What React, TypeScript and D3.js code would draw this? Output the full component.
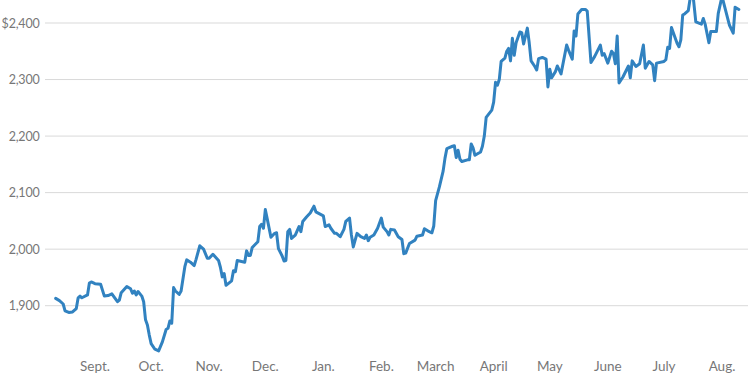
import React from "react";
import * as d3 from "d3";

const dates: string[] = [
  "2023-08-11","2023-08-13","2023-08-15","2023-08-16","2023-08-18","2023-08-20","2023-08-22","2023-08-23","2023-08-24","2023-08-25",
  "2023-08-28","2023-08-29","2023-08-30","2023-09-01","2023-09-04","2023-09-06","2023-09-08","2023-09-10","2023-09-13","2023-09-14",
  "2023-09-15","2023-09-18","2023-09-20","2023-09-21","2023-09-22","2023-09-23","2023-09-24","2023-09-26","2023-09-27","2023-09-28",
  "2023-09-29","2023-09-30","2023-10-01","2023-10-03","2023-10-05","2023-10-07","2023-10-09","2023-10-10","2023-10-11","2023-10-12",
  "2023-10-13","2023-10-14","2023-10-16","2023-10-17","2023-10-19","2023-10-20","2023-10-22","2023-10-24","2023-10-25","2023-10-27",
  "2023-10-29","2023-10-31","2023-11-01","2023-11-03","2023-11-06","2023-11-07","2023-11-08","2023-11-09","2023-11-10","2023-11-13",
  "2023-11-14","2023-11-15","2023-11-16","2023-11-20","2023-11-21","2023-11-22","2023-11-23","2023-11-24","2023-11-27","2023-11-28",
  "2023-11-29","2023-11-30","2023-12-01","2023-12-02","2023-12-04","2023-12-06","2023-12-07","2023-12-08","2023-12-10","2023-12-11",
  "2023-12-12","2023-12-13","2023-12-14","2023-12-15","2023-12-17","2023-12-19","2023-12-20","2023-12-21","2023-12-23","2023-12-25",
  "2023-12-27","2023-12-28","2024-01-01","2024-01-02","2024-01-04","2024-01-05","2024-01-07","2024-01-08","2024-01-10","2024-01-12",
  "2024-01-13","2024-01-15","2024-01-16","2024-01-17","2024-01-19","2024-01-21","2024-01-23","2024-01-24","2024-01-25","2024-01-26",
  "2024-01-28","2024-01-30","2024-02-01","2024-02-02","2024-02-04","2024-02-05","2024-02-06","2024-02-08","2024-02-10","2024-02-12",
  "2024-02-13","2024-02-14","2024-02-16","2024-02-19","2024-02-20","2024-02-23","2024-02-24","2024-02-26","2024-02-28","2024-02-29",
  "2024-03-01","2024-03-03","2024-03-05","2024-03-06","2024-03-07","2024-03-10","2024-03-11","2024-03-12","2024-03-13","2024-03-14",
  "2024-03-15","2024-03-18","2024-03-19","2024-03-20","2024-03-21","2024-03-22","2024-03-25","2024-03-26","2024-03-27","2024-03-28",
  "2024-03-31","2024-04-01","2024-04-02","2024-04-03","2024-04-04","2024-04-05","2024-04-07","2024-04-08","2024-04-09","2024-04-10",
  "2024-04-11","2024-04-12","2024-04-13","2024-04-15","2024-04-16","2024-04-17","2024-04-19","2024-04-20","2024-04-21","2024-04-23",
  "2024-04-24","2024-04-25","2024-04-27","2024-04-29","2024-04-30","2024-05-01","2024-05-02","2024-05-04","2024-05-05","2024-05-07",
  "2024-05-10","2024-05-11","2024-05-13","2024-05-14","2024-05-15","2024-05-16","2024-05-18","2024-05-20","2024-05-21","2024-05-23",
  "2024-05-25","2024-05-28","2024-05-29","2024-05-30","2024-06-01","2024-06-03","2024-06-04","2024-06-05","2024-06-06","2024-06-07",
  "2024-06-09","2024-06-12","2024-06-13","2024-06-14","2024-06-16","2024-06-18","2024-06-20","2024-06-21","2024-06-23","2024-06-25",
  "2024-06-26","2024-06-27","2024-07-01","2024-07-02","2024-07-03","2024-07-04","2024-07-05","2024-07-08","2024-07-09","2024-07-10",
  "2024-07-11","2024-07-12","2024-07-14","2024-07-16","2024-07-18","2024-07-21","2024-07-22","2024-07-23","2024-07-25","2024-07-26",
  "2024-07-29","2024-07-30","2024-08-01","2024-08-05","2024-08-07","2024-08-08","2024-08-10"
];

const prices: number[] = [
  1913,1909,1903,1891,1888,1889,1895,1914,1917,1914,
  1919,1940,1942,1939,1938,1917,1918,1921,1907,1910,
  1923,1934,1930,1922,1926,1919,1925,1917,1907,1875,
  1866,1848,1833,1823,1820,1836,1858,1860,1873,1869,
  1932,1926,1920,1926,1969,1981,1977,1971,1982,2006,
  2000,1984,1984,1991,1980,1968,1951,1957,1936,1944,
  1962,1960,1980,1977,1997,1989,1989,2003,2013,2040,
  2044,2037,2070,2054,2021,2028,2029,2001,1988,1979,
  1980,2031,2035,2019,2025,2040,2031,2049,2057,2064,
  2076,2066,2059,2040,2043,2037,2028,2028,2022,2035,
  2049,2055,2025,2004,2028,2022,2019,2025,2015,2021,
  2025,2037,2055,2039,2031,2025,2035,2034,2022,2017,
  1992,1993,2010,2016,2023,2025,2036,2032,2029,2041,
  2086,2110,2138,2161,2178,2182,2183,2162,2175,2159,
  2155,2158,2158,2186,2179,2166,2172,2182,2200,2233,
  2246,2260,2295,2290,2300,2332,2338,2350,2355,2333,
  2373,2343,2365,2384,2383,2363,2391,2365,2333,2323,
  2317,2337,2339,2336,2287,2318,2303,2314,2324,2310,
  2361,2352,2336,2386,2377,2416,2424,2424,2421,2330,
  2341,2361,2343,2346,2329,2350,2346,2328,2377,2294,
  2304,2324,2303,2333,2323,2328,2361,2320,2332,2326,
  2298,2329,2332,2335,2357,2355,2392,2364,2358,2370,
  2414,2416,2422,2466,2402,2398,2408,2398,2365,2385,
  2385,2417,2447,2396,2382,2428,2424
];

const yTicks: number[] = [1900, 2000, 2100, 2200, 2300, 2400];
const monthStarts: string[] = [
  "2023-09-01","2023-10-01","2023-11-01","2023-12-01","2024-01-01","2024-02-01",
  "2024-03-01","2024-04-01","2024-05-01","2024-06-01","2024-07-01","2024-08-01"
];
const monthLabels: string[] = ["Sept.","Oct.","Nov.","Dec.","Jan.","Feb.","March","April","May","June","July","Aug."];

const W = 750;
const H = 375;

export default function App() {
  const parse = d3.timeParse("%Y-%m-%d");
  const data = dates.map((d, i) => ({ date: parse(d) as Date, value: prices[i] }));

  const x = d3
    .scaleTime()
    .domain([parse("2023-09-01") as Date, parse("2024-08-01") as Date])
    .range([95, 722]);
  const y = d3.scaleLinear().domain([1900, 2400]).range([305.7, 23]);

  const line = d3
    .line<{ date: Date; value: number }>()
    .x((d) => x(d.date))
    .y((d) => y(d.value))
    .curve(d3.curveLinear);

  const fmt = d3.format(",");
  const font = "'Source Sans Pro', Lato, 'Noto Sans', sans-serif";

  return (
    <svg
      width={W}
      height={H}
      style={{ position: "absolute", left: 0, top: 0, background: "#fff", overflow: "hidden" }}
    >
      {yTicks.map((t, i) => (
        <g key={t}>
          <line x1={45} x2={748} y1={y(t)} y2={y(t)} stroke="#d9d9d9" strokeWidth={1} />
          <text
            x={39.5}
            y={y(t)}
            textAnchor="end"
            dominantBaseline="central"
            fontFamily={font}
            fontSize={12.5}
            letterSpacing={-0.2}
            fill="#777"
          >
            {(i === yTicks.length - 1 ? "$" : "") + fmt(t)}
          </text>
        </g>
      ))}
      {monthStarts.map((m, i) => (
        <text
          key={m}
          x={x(parse(m) as Date)}
          y={371}
          textAnchor="middle"
          fontFamily={font}
          fontSize={13.5}
          fill="#777"
        >
          {monthLabels[i]}
        </text>
      ))}
      <path
        d={line(data) || ""}
        fill="none"
        stroke="#3182c0"
        strokeWidth={3}
        strokeLinejoin="round"
        strokeLinecap="round"
      />
    </svg>
  );
}
